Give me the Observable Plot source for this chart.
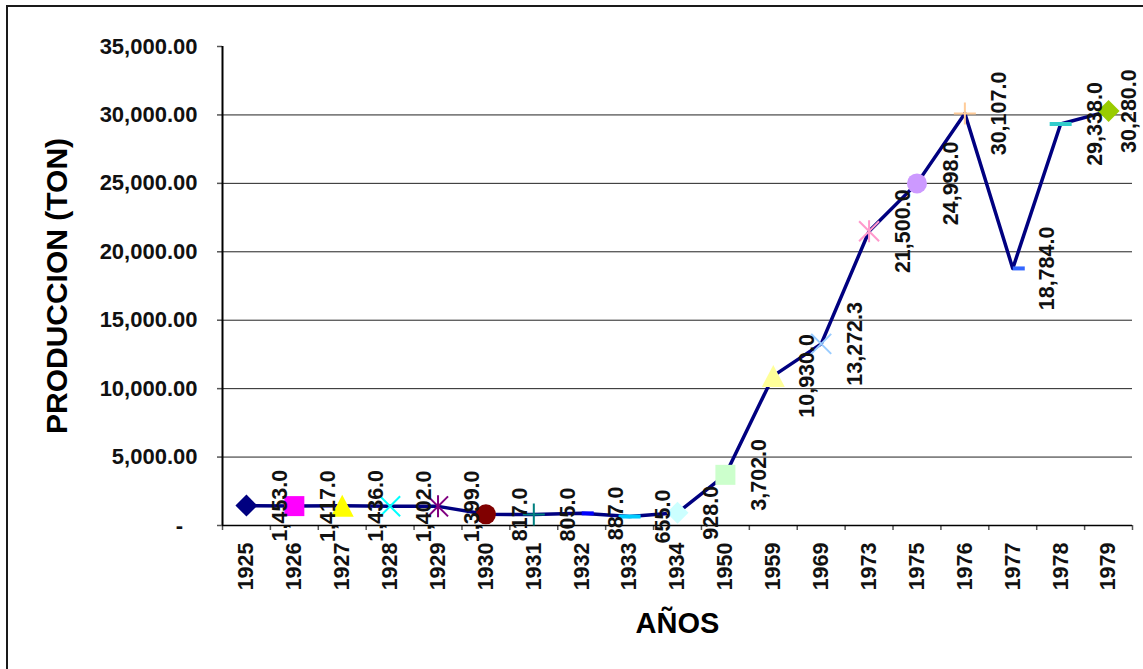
<!DOCTYPE html>
<html>
<head>
<meta charset="utf-8">
<script src="https://cdn.jsdelivr.net/npm/d3@7"></script>
<script src="https://cdn.jsdelivr.net/npm/@observablehq/plot@0.6"></script>
<style>
html, body { margin: 0; padding: 0; background: #fff; }
#wrap { position: relative; width: 1143px; height: 669px; overflow: hidden; background: #fff; }
#border { position: absolute; left: 6px; top: 5px; width: 1137px; height: 664px; border-left: 2px solid #1a1a1a; border-top: 2px solid #1a1a1a; box-sizing: border-box; pointer-events: none; }
</style>
</head>
<body>
<div id="wrap"><div id="chart"></div><div id="border"></div></div>
<script>
// ---- data ----
const years = ["1925","1926","1927","1928","1929","1930","1931","1932","1933","1934",
               "1950","1959","1969","1973","1975","1976","1977","1978","1979"];
const production = [1453, 1417, 1436, 1402, 1399, 817, 805, 887, 655, 928,
                    3702, 10930, 13272.3, 21500, 24998, 30107, 18784, 29338, 30280];
const yTicks = [0, 5000, 10000, 15000, 20000, 25000, 30000, 35000];

// ---- marker styles (one per point, Excel "vary colors by point") ----
const markerShapes = ["diamond","square","triangle","times","star","circle","plus","shortDash","longDash",
                      "diamond","square","triangle","times","star","circle","plus","shortDash","longDash","diamond"];
const markerColors = ["#000080","#FF00FF","#FFFF00","#00FFFF","#800080","#800000","#008080","#0000FF","#00CCFF",
                      "#CCFFFF","#CCFFCC","#FFFF99","#99CCFF","#FF99CC","#CC99FF","#FFCC99","#3366FF","#33CCCC","#99CC00"];

const SYMBOLS = {
  diamond: {draw(c){ c.moveTo(0,-11); c.lineTo(11,0); c.lineTo(0,11); c.lineTo(-11,0); c.closePath(); }},
  square: {draw(c){ c.moveTo(-10,-10); c.lineTo(10,-10); c.lineTo(10,10); c.lineTo(-10,10); c.closePath(); }},
  triangle: {draw(c){ c.moveTo(0,-11); c.lineTo(11.5,11); c.lineTo(-11.5,11); c.closePath(); }},
  times: {draw(c){ c.moveTo(-10,-10); c.lineTo(10,10); c.moveTo(10,-10); c.lineTo(-10,10); }},
  star: {draw(c){ c.moveTo(-10,-10); c.lineTo(10,10); c.moveTo(10,-10); c.lineTo(-10,10); c.moveTo(0,-11); c.lineTo(0,11); }},
  circle: {draw(c){ c.moveTo(10,0); c.arc(0,0,10,0,2*Math.PI); c.closePath(); }},
  plus: {draw(c){ c.moveTo(-11,0); c.lineTo(11,0); c.moveTo(0,-11); c.lineTo(0,11); }},
  shortDash: {draw(c){ c.moveTo(0,-2); c.lineTo(12,-2); c.lineTo(12,2); c.lineTo(0,2); c.closePath(); }},
  longDash: {draw(c){ c.moveTo(-11,-2); c.lineTo(11,-2); c.lineTo(11,2); c.lineTo(-11,2); c.closePath(); }}
};
const strokeShapes = new Set(["times","star","plus"]);

const rows = years.map((year, i) => ({i, year, value: production[i]}));
const last = rows.length - 1;
const fmtLabel = d3.format(",.1f");
const fmtTick = d3.format(",.2f");
const font = "'Liberation Sans', Arial, Helvetica, sans-serif";

const labelOpts = {
  x: "i", y: "value", text: d => fmtLabel(d.value), rotate: -90,
  textAnchor: "middle", lineAnchor: "middle",
  fontSize: 21.5, fontWeight: "bold", fill: "#111"
};

const plot = Plot.plot({
  width: 1143, height: 669,
  marginLeft: 222, marginRight: 11, marginTop: 46, marginBottom: 144,
  style: {fontFamily: font, background: "transparent", overflow: "visible", color: "#000"},
  x: {type: "linear", domain: [-0.5, years.length - 0.5], axis: null, label: null},
  y: {domain: [0, 35000], axis: null, label: null},
  marks: [
    // gridlines
    Plot.ruleY(yTicks.filter(v => v > 0 && v < 35000), {y: d => d, stroke: "#222", strokeWidth: 1}),
    // y ticks
    Plot.axisY({ticks: yTicks, tickSize: 5, tickFormat: () => "", stroke: "#555", strokeWidth: 1.5, label: null}),
    // x boundary ticks
    Plot.axisX({ticks: d3.range(years.length + 1).map(k => k - 0.5), tickSize: 5, tickFormat: () => "", stroke: "#555", strokeWidth: 1.5, label: null}),
    // axis lines
    Plot.ruleX([-0.5], {x: d => d, y1: 0, y2: 35000, stroke: "#000", strokeWidth: 2}),
    Plot.ruleY([0], {y: d => d, stroke: "#000", strokeWidth: 1.5}),
    // series line
    Plot.line(rows, {x: "i", y: "value", stroke: "#000080", strokeWidth: 3.5, strokeLinejoin: "round"}),
    // markers
    ...rows.map((r, k) => {
      const isStroke = strokeShapes.has(markerShapes[k]);
      return Plot.dot([r], {
        x: "i", y: "value", symbol: SYMBOLS[markerShapes[k]],
        fill: isStroke ? "none" : markerColors[k],
        stroke: isStroke ? markerColors[k] : "none",
        strokeWidth: 2
      });
    }),
    // data labels
    Plot.text(rows.slice(0, last), {...labelOpts, dx: 34}),
    Plot.text(rows.slice(last), {...labelOpts, dx: 21}),
    // x tick labels
    Plot.text(rows, {x: "i", text: "year", frameAnchor: "bottom", dy: 17, rotate: -90,
      textAnchor: "end", lineAnchor: "middle", fontSize: 21.5, fontWeight: "bold", fill: "#111"}),
    // y tick labels
    Plot.text(yTicks.filter(v => v > 0), {y: d => d, text: d => fmtTick(d), frameAnchor: "left", dx: -25,
      textAnchor: "end", lineAnchor: "middle", fontSize: 22, fontWeight: "bold", fill: "#111"}),
    Plot.text(yTicks.filter(v => v === 0), {y: d => d, text: () => "-", frameAnchor: "left", dx: -43,
      textAnchor: "middle", lineAnchor: "middle", fontSize: 22, fontWeight: "bold", fill: "#111"}),
    // axis titles
    Plot.text(["PRODUCCION (TON)"], {text: d => d, frameAnchor: "left", dx: -165, rotate: -90,
      textAnchor: "middle", lineAnchor: "middle", fontSize: 30, fontWeight: "bold", fill: "#000"}),
    Plot.text(["AÑOS"], {text: d => d, frameAnchor: "bottom", dy: 107,
      textAnchor: "middle", lineAnchor: "bottom", fontSize: 29, fontWeight: "bold", fill: "#000"})
  ]
});
document.getElementById("chart").appendChild(plot);
</script>
</body>
</html>
